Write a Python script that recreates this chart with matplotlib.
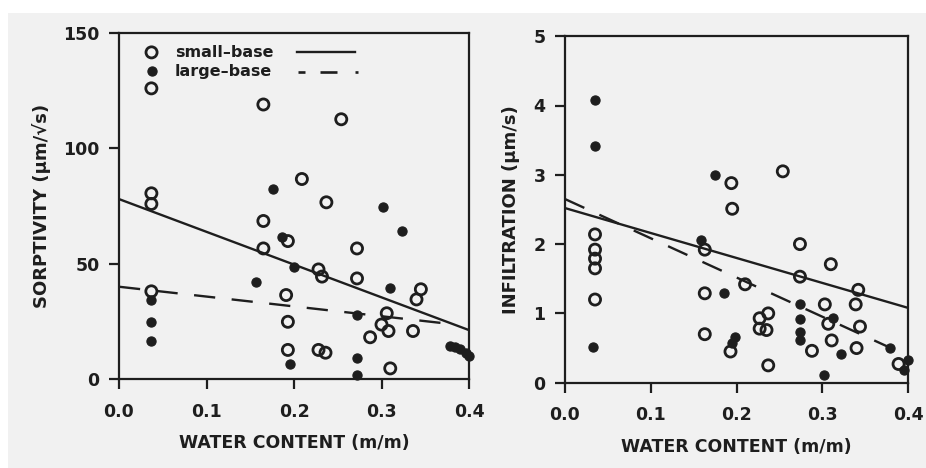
import matplotlib
matplotlib.use("Agg")
import matplotlib.pyplot as plt
from matplotlib.patches import Rectangle
import numpy as np

# ---------------- data ----------------
# Left panel: sorptivity (um/sqrt(s)) vs water content (m/m)
sorp_small_x = [0.037, 0.165, 0.254, 0.209, 0.037, 0.037, 0.237, 0.165, 0.165, 0.193,
                0.272, 0.228, 0.232, 0.272, 0.345, 0.340, 0.191, 0.306, 0.300, 0.308,
                0.336, 0.287, 0.193, 0.193, 0.228, 0.236, 0.310, 0.037]
sorp_small_y = [126, 119, 112.6, 86.7, 80.5, 75.9, 76.6, 68.5, 56.6, 59.8,
                56.6, 47.5, 44.4, 43.6, 38.9, 34.5, 36.4, 28.5, 23.6, 20.8,
                20.8, 18.1, 24.8, 12.6, 12.6, 11.4, 4.6, 38.0]
sorp_large_x = [0.176, 0.302, 0.323, 0.186, 0.200, 0.157, 0.310, 0.037, 0.037, 0.037,
                0.272, 0.195, 0.272, 0.272, 0.378, 0.384, 0.390, 0.396, 0.400]
sorp_large_y = [82.4, 74.7, 64.2, 61.7, 48.7, 42.2, 39.3, 34.2, 24.8, 16.6,
                27.7, 6.4, 9.0, 1.7, 14.2, 13.8, 12.8, 11.3, 9.8]
sorp_fit_x = [0.0, 0.4]
sorp_fit_small = [78.0, 21.2]
sorp_fit_large_x = [0.0, 0.38]
sorp_fit_large = [40.0, 23.8]

# Right panel: infiltration (um/s) vs water content (m/m)
inf_small_x = [0.254, 0.194, 0.195, 0.035, 0.035, 0.035, 0.035, 0.035, 0.163, 0.274,
               0.310, 0.274, 0.342, 0.210, 0.163, 0.303, 0.339, 0.237, 0.227, 0.307,
               0.344, 0.227, 0.235, 0.163, 0.311, 0.288, 0.340, 0.193, 0.237, 0.389]
inf_small_y = [3.05, 2.88, 2.51, 2.14, 1.92, 1.79, 1.65, 1.20, 1.92, 2.00,
               1.71, 1.53, 1.34, 1.42, 1.29, 1.13, 1.13, 1.00, 0.93, 0.85,
               0.81, 0.78, 0.76, 0.70, 0.61, 0.46, 0.50, 0.45, 0.25, 0.27]
inf_large_x = [0.035, 0.035, 0.175, 0.159, 0.185, 0.033, 0.274, 0.274, 0.274, 0.274,
               0.312, 0.322, 0.302, 0.379, 0.198, 0.195, 0.400, 0.395]
inf_large_y = [4.08, 3.41, 2.99, 2.06, 1.30, 0.52, 1.14, 0.92, 0.73, 0.62,
               0.93, 0.41, 0.11, 0.50, 0.66, 0.58, 0.33, 0.19]
inf_fit_x = [0.0, 0.4]
inf_fit_small = [2.52, 1.08]
inf_fit_large_x = [0.0, 0.38]
inf_fit_large = [2.65, 0.50]

x_ticks = [0.0, 0.1, 0.2, 0.3, 0.4]
x_ticklabels = ["0.0", "0.1", "0.2", "0.3", "0.4"]
sorp_ticks = [0, 50, 100, 150]
inf_ticks = [0, 1, 2, 3, 4, 5]

# ---------------- style ----------------
INK = "#1e1e1e"
PAGE = "#f1f1f1"
plt.rcParams["font.family"] = ["DejaVu Sans"]
plt.rcParams["font.weight"] = "bold"

fig = plt.figure(figsize=(9.26, 4.68), dpi=100, facecolor="white")
fig.patches.append(Rectangle((8 / 926, 0), 1, (468 - 13) / 468,
                             transform=fig.transFigure, facecolor=PAGE,
                             edgecolor="none", zorder=-10))

axL = fig.add_axes([119 / 926, (468 - 379) / 468, 350 / 926, 346 / 468])
axR = fig.add_axes([565 / 926, (468 - 382.7) / 468, 343 / 926, 346.5 / 468])

open_kw = dict(s=64, facecolors="none", edgecolors=INK, linewidths=2.0, zorder=3)
fill_kw = dict(s=44, facecolors=INK, edgecolors=INK, linewidths=0.8, zorder=3)
dash = (0, (9, 7))


def style(ax, yticks, ylim, ylabel, ylabelpad):
    ax.set_facecolor("none")
    ax.set_xlim(0.0, 0.4)
    ax.set_ylim(*ylim)
    ax.set_xticks(x_ticks)
    ax.set_xticklabels(x_ticklabels)
    ax.set_yticks(yticks)
    for s in ax.spines.values():
        s.set_linewidth(1.6)
        s.set_color(INK)
    ax.tick_params(axis="x", direction="out", length=7, width=1.6, pad=10,
                   labelsize=12.5, colors=INK)
    ax.tick_params(axis="y", direction="out", length=7, width=1.6, pad=7,
                   labelsize=12.5, colors=INK)
    for lab in ax.get_xticklabels() + ax.get_yticklabels():
        lab.set_fontweight("bold")
    ax.set_xlabel("WATER CONTENT (m/m)", fontsize=12.5, fontweight="bold",
                  color=INK, labelpad=10)
    ax.set_ylabel(ylabel, fontsize=13, fontweight="bold", color=INK,
                  labelpad=ylabelpad)


# Left panel
axL.scatter(sorp_small_x, sorp_small_y, clip_on=False, **open_kw)
axL.scatter(sorp_large_x, sorp_large_y, clip_on=False, **fill_kw)
axL.plot(sorp_fit_x, sorp_fit_small, color=INK, lw=1.7, zorder=2)
axL.plot(sorp_fit_large_x, sorp_fit_large, color=INK, lw=1.7, linestyle=dash, zorder=2)
style(axL, sorp_ticks, (0, 150), "SORPTIVITY (\u03bcm/\u221as)", 9)

# legend drawn by hand (marker, label, line sample)
tr = axL.transAxes
axL.scatter([0.093], [0.944], transform=tr, **open_kw)
axL.scatter([0.093], [0.890], transform=tr, **fill_kw)
axL.text(0.160, 0.944, "small\u2013base", transform=tr, fontsize=11.5,
         fontweight="bold", color=INK, va="center", ha="left")
axL.text(0.160, 0.890, "large\u2013base", transform=tr, fontsize=11.5,
         fontweight="bold", color=INK, va="center", ha="left")
axL.plot([0.508, 0.674], [0.944, 0.944], transform=tr, color=INK, lw=1.7)
for x0, x1 in [(0.512, 0.531), (0.574, 0.622), (0.674, 0.683)]:
    axL.plot([x0, x1], [0.886, 0.886], transform=tr, color=INK, lw=1.9,
             solid_capstyle="butt")

# Right panel
axR.scatter(inf_small_x, inf_small_y, clip_on=False, **open_kw)
axR.scatter(inf_large_x, inf_large_y, clip_on=False, **fill_kw)
axR.plot(inf_fit_x, inf_fit_small, color=INK, lw=1.7, zorder=2)
axR.plot(inf_fit_large_x, inf_fit_large, color=INK, lw=1.7, linestyle=dash, zorder=2)
style(axR, inf_ticks, (0, 5), "INFILTRATION (\u03bcm/s)", 10)

fig.savefig("out.png", dpi=100, facecolor=fig.get_facecolor())
